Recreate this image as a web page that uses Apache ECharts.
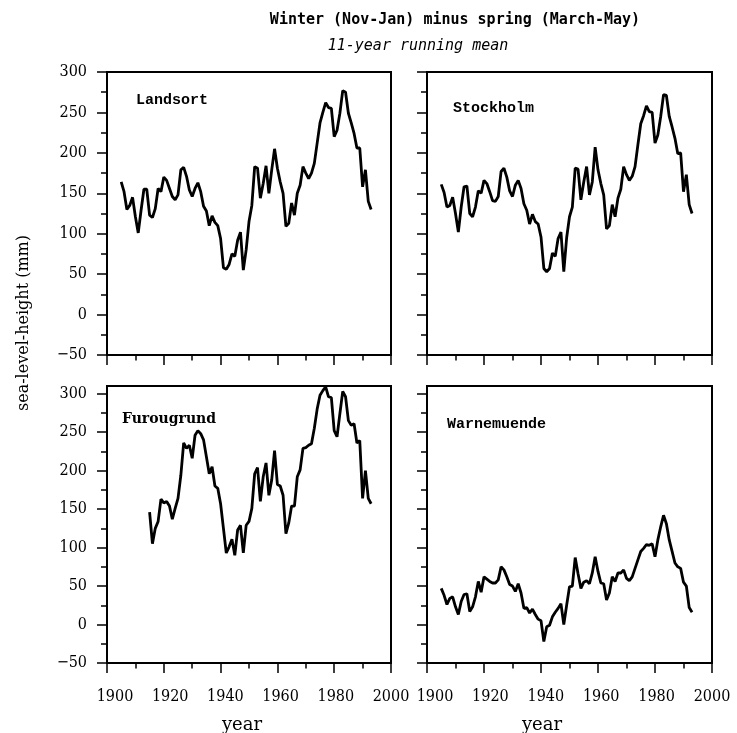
<!DOCTYPE html>
<html><head><meta charset="utf-8">
<script src="https://cdn.jsdelivr.net/npm/echarts@6/dist/echarts.min.js"></script>
<style>html,body{margin:0;padding:0;background:#fff}#c{width:737px;height:733px}</style>
</head><body><div id="c"></div>
<script>
// ---- data ----
const landsortStart = 1905;
const landsortValues = [164,152,130,135,145,121,101,129,155,155,123,120,131,156,152,170,166,156,146,142,148,179,182,171,154,146,156,163,152,134,128,110,122,114,110,94,58,56,62,75,72,92,102,55,80,115,135,183,181,144,162,184,150,179,205,181,164,150,109,113,138,123,150,160,183,175,168,175,187,212,237,250,262,256,255,220,228,249,277,275,249,237,224,206,206,158,179,140,130];
const stockholmStart = 1905;
const stockholmValues = [161,151,133,135,145,125,102,133,158,159,125,121,133,153,150,166,162,152,141,140,146,177,181,170,153,146,160,166,156,137,129,112,124,115,112,96,57,53,57,76,72,94,102,53,95,121,133,181,180,142,164,183,148,164,207,179,162,148,106,110,136,121,144,155,183,173,166,171,183,210,236,246,258,251,250,212,222,245,272,271,245,232,218,199,200,152,173,136,125];
const furougrundStart = 1915;
const furougrundValues = [146,105,125,134,163,158,160,154,137,151,164,194,236,229,233,216,246,252,248,240,218,196,205,180,177,157,125,93,101,111,90,123,129,93,129,134,151,196,204,160,192,210,168,188,226,182,180,168,118,132,154,154,192,201,229,230,233,235,255,280,298,304,309,296,295,252,244,274,303,296,265,259,261,236,239,164,200,164,157];
const warnemuendeStart = 1905;
const warnemuendeValues = [47,38,26,34,36,23,13,30,39,40,17,23,36,56,42,62,59,56,54,54,58,75,71,62,52,50,43,53,41,21,22,15,20,13,7,5,-22,-3,-1,10,16,21,27,0,25,49,50,87,66,47,55,57,53,67,88,69,54,53,32,41,62,56,67,67,71,60,57,62,73,84,95,99,104,103,105,88,110,127,142,131,110,95,80,75,73,55,50,22,16];

const stationNames = ['Landsort','Stockholm','Furougrund','Warnemuende'];
const xLabelValues = [1900,1920,1940,1960,1980,2000];
const yMajorTicks = [-50,0,50,100,150,200,250,300];
const yMinorTicks = [-25,25,75,125,175,225,275];
const titleText = 'Winter (Nov-Jan) minus spring (March-May)';
const subtitleText = '11-year running mean';
const yAxisTitle = 'sea-level-height (mm)';
const xAxisTitle = 'year';

function pairs(start, vals){ return vals.map((v,i)=>[start+i, v]); }
const seriesData = [
  pairs(landsortStart, landsortValues),
  pairs(stockholmStart, stockholmValues),
  pairs(furougrundStart, furougrundValues),
  pairs(warnemuendeStart, warnemuendeValues)
];

// ---- layout ----
const grids = [
  {left:107, top:72, width:284, height:283},
  {left:427, top:72, width:285, height:283},
  {left:107, top:386, width:284, height:277},
  {left:427, top:386, width:285, height:277}
];
const yMax = [300,300,310,310];
const tickFont = '"DejaVu Serif Condensed","DejaVu Serif","Liberation Serif",serif';
const fmt = v => v < 0 ? '\u2212' + Math.abs(v) : String(v);

const xAxes = [], yAxes = [], series = [];
grids.forEach((g,i)=>{
  const showYLabel = (i % 2) === 0;
  xAxes.push({
    type:'value', gridIndex:i, min:1900, max:2000, interval:20,
    axisLine:{show:true, onZero:false, lineStyle:{color:'#000', width:2}},
    axisTick:{show:true, inside:false, length:10, lineStyle:{color:'#000', width:1.5}},
    minorTick:{show:true, splitNumber:2, length:5.5, lineStyle:{color:'#000', width:1.5}},
    axisLabel:{show:false},
    splitLine:{show:false}
  });
  yAxes.push({
    type:'value', gridIndex:i, min:-50, max:yMax[i], position:'left',
    axisLine:{show:true, onZero:false, lineStyle:{color:'#000', width:2}},
    axisTick:{show:true, inside:false, length:10, customValues:yMajorTicks, lineStyle:{color:'#000', width:1.5}},
    axisLabel:{show:showYLabel, margin:20, color:'#000', fontSize:16, fontFamily:tickFont, customValues:yMajorTicks, formatter:fmt},
    splitLine:{show:false}
  });
  yAxes.push({
    type:'value', gridIndex:i, min:-50, max:yMax[i], position:'left', offset:0,
    axisLine:{show:false, onZero:false},
    axisTick:{show:true, inside:false, length:6, customValues:yMinorTicks, lineStyle:{color:'#000', width:1.5}},
    axisLabel:{show:false},
    splitLine:{show:false}
  });
  series.push({
    type:'line', xAxisIndex:i, yAxisIndex:i*2, data:seriesData[i], showSymbol:false,
    lineStyle:{color:'#000', width:2.8}, clip:false, animation:false
  });
});
// label-only x axes for the bottom panels (labels sit slightly right of their ticks, as in the reference)
[2,3].forEach(i=>{
  const w = grids[i].width;
  const s = (w - 8) / 100;
  xAxes.push({
    type:'value', gridIndex:i, position:'bottom', min:1900 - 8 / s, max:2000,
    axisLine:{show:false, onZero:false}, axisTick:{show:false}, splitLine:{show:false},
    axisLabel:{show:true, margin:26, color:'#000', fontSize:16, fontFamily:tickFont, customValues:xLabelValues, formatter:v=>String(Math.round(v))}
  });
});

const monoBold = 'bold 15px "DejaVu Sans Mono", monospace';
const courierBold = 'bold 15px "Liberation Mono", "Courier New", monospace';
const graphic = [
  {type:'text', style:{text:titleText, x:455, y:20, textAlign:'center', textVerticalAlign:'middle', font:monoBold, fill:'#000'}},
  {type:'text', style:{text:subtitleText, x:418, y:46, textAlign:'center', textVerticalAlign:'middle', font:'italic 15px "DejaVu Sans Mono", monospace', fill:'#000'}},
  {type:'text', style:{text:stationNames[0], x:136, y:100, textAlign:'left', textVerticalAlign:'middle', font:courierBold, fill:'#000'}},
  {type:'text', style:{text:stationNames[1], x:453, y:108, textAlign:'left', textVerticalAlign:'middle', font:courierBold, fill:'#000'}},
  {type:'text', style:{text:stationNames[2], x:122, y:419, textAlign:'left', textVerticalAlign:'middle', font:'bold 14px "DejaVu Serif", serif', fill:'#000'}},
  {type:'text', style:{text:stationNames[3], x:447, y:424, textAlign:'left', textVerticalAlign:'middle', font:courierBold, fill:'#000'}},
  {type:'text', rotation:Math.PI/2, x:24, y:323, style:{text:yAxisTitle, x:0, y:0, textAlign:'center', textVerticalAlign:'middle', font:'16px "DejaVu Serif", serif', fill:'#000'}},
  {type:'text', style:{text:xAxisTitle, x:242, y:725, textAlign:'center', textVerticalAlign:'middle', font:'18px "DejaVu Serif", serif', fill:'#000'}},
  {type:'text', style:{text:xAxisTitle, x:542, y:725, textAlign:'center', textVerticalAlign:'middle', font:'18px "DejaVu Serif", serif', fill:'#000'}}
];

const chart = echarts.init(document.getElementById('c'), null, {renderer:'canvas'});
chart.setOption({
  animation:false,
  backgroundColor:'#fff',
  grid: grids.map(g=>Object.assign({show:true, borderColor:'#000', borderWidth:2, backgroundColor:'transparent'}, g)),
  xAxis: xAxes,
  yAxis: yAxes,
  series: series,
  graphic: graphic
});
</script>
</body></html>
